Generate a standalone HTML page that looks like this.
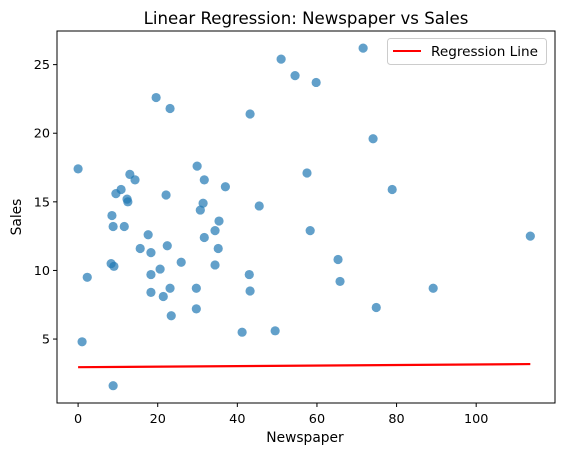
<!DOCTYPE html>
<html><head><meta charset="utf-8"><style>
body{margin:0;background:#fff;}
svg{display:block;font-family:"DejaVu Sans","Liberation Sans",sans-serif;}
</style></head><body>
<svg id="chart" width="562" height="455"></svg>
<script>
const newspaper=[0,1,2.3,8.8,8.5,8.8,11.6,8.3,9,9.5,10.8,12.3,12.5,13,14.3,17.6,15.6,18.3,18.3,18.3,19.6,20.6,21.4,22.1,22.4,23.1,23.1,23.4,25.9,29.7,29.7,29.9,31.4,30.7,31.7,31.7,34.4,34.4,35.2,35.4,37,43.2,41.2,43,43.2,45.5,49.5,51,54.5,57.5,58.3,59.8,71.6,74.1,65.3,65.8,74.9,78.9,89.2,113.6];
const sales=[17.4,4.8,9.5,1.6,14.0,13.2,13.2,10.5,10.3,15.6,15.9,15.2,15.0,17.0,16.6,12.6,11.6,11.3,9.7,8.4,22.6,10.1,8.1,15.5,11.8,8.7,21.8,6.7,10.6,8.7,7.2,17.6,14.9,14.4,16.6,12.4,12.9,10.4,11.6,13.6,16.1,21.4,5.5,9.7,8.5,14.7,5.6,25.4,24.2,17.1,12.9,23.7,26.2,19.6,10.8,9.2,7.3,15.9,8.7,12.5];
const regIntercept=2.95, regSlope=0.002;
const xTicks=[0,20,40,60,80,100];
const yTicks=[5,10,15,20,25];
const NS="http://www.w3.org/2000/svg";
const svg=document.getElementById('chart');
const L=57,R=555,T=31,B=403;
const xMin=-5.3,xMax=119.8,yMin=0.34,yMax=27.45;
const xs=v=>L+(v-xMin)/(xMax-xMin)*(R-L);
const ys=v=>B-(v-yMin)/(yMax-yMin)*(B-T);
function mk(tag,attrs,parent){const e=document.createElementNS(NS,tag);for(const k in attrs)e.setAttribute(k,attrs[k]);(parent||svg).appendChild(e);return e;}
const title=mk('text',{x:306,y:24,'text-anchor':'middle','font-size':16.6,fill:'#000'});title.textContent='Linear Regression: Newspaper vs Sales';


const pts=mk('g',{});


for(let i=0;i<newspaper.length;i++){
 const c=mk('circle',{cx:xs(newspaper[i]),cy:ys(sales[i]),r:4.6,fill:'#1f77b4','fill-opacity':0.7},pts);
 
 
}
const x0=Math.min(...newspaper),x1=Math.max(...newspaper);
const rl=mk('line',{x1:xs(x0),y1:ys(regIntercept+regSlope*x0),x2:xs(x1),y2:ys(regIntercept+regSlope*x1),stroke:'#ff0000','stroke-width':2.2});


const frame=mk('rect',{x:L,y:T,width:R-L,height:B-T,fill:'none',stroke:'#000','stroke-width':1});


xTicks.forEach(v=>{const x=xs(v);mk('line',{x1:x,y1:B,x2:x,y2:B+4,stroke:'#000'});
 const t=mk('text',{x:x,y:B+20,'text-anchor':'middle','font-size':12.8});t.textContent=v;
 
 });
yTicks.forEach(v=>{const y=ys(v);mk('line',{x1:L-4,y1:y,x2:L,y2:y,stroke:'#000'});
 const t=mk('text',{x:L-7,y:y+4.5,'text-anchor':'end','font-size':12.8});t.textContent=v;
 
 });
const xl=mk('text',{x:305,y:442,'text-anchor':'middle','font-size':13.8});xl.textContent='Newspaper';


const yl=mk('text',{x:21,y:217,'text-anchor':'middle','font-size':13.8,transform:'rotate(-90 21 217)'});yl.textContent='Sales';


const lg=mk('g',{});


mk('rect',{x:387.5,y:38.5,width:159,height:26,rx:3,fill:'#fff',stroke:'#ccc'},lg);
mk('line',{x1:393,y1:51,x2:421,y2:51,stroke:'#ff0000','stroke-width':2},lg);
const lt=mk('text',{x:431,y:56,'font-size':13.6},lg);lt.textContent='Regression Line';


</script>
</body></html>
